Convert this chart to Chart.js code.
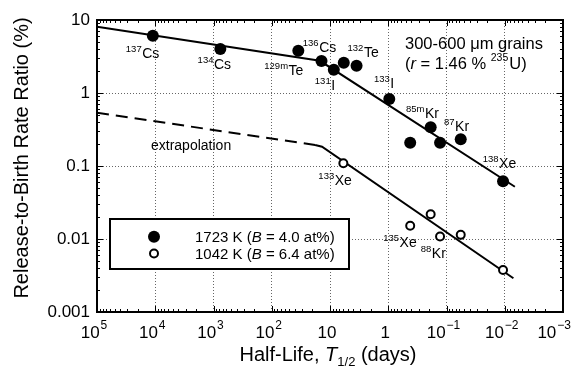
<!DOCTYPE html>
<html><head><meta charset="utf-8">
<script src="https://cdn.jsdelivr.net/npm/chart.js@4.4.0/dist/chart.umd.min.js"></script>
<style>html,body{margin:0;padding:0;background:#fff}#wrap{width:572px;height:380px;position:relative}</style>
</head><body><div id="wrap"><canvas id="c" width="572" height="380"></canvas></div>
<script>
// ---------------- data ----------------
const hotHalfLife = [11000, 764, 35, 14, 8.6, 5.8, 3.5, 0.96, 0.187, 0.42, 0.129, 0.057, 0.0107];
const hotRatio    = [6.1, 4.0, 3.8, 2.74, 2.08, 2.6, 2.37, 0.83, 0.339, 0.208, 0.208, 0.232, 0.062];
const hotMass     = ['137','134','129m','136','131','','132','133','85m','','','87','138'];
const hotElem     = ['Cs','Cs','Te','Cs','I','','Te','I','Kr','','','Kr','Xe'];
const coldHalfLife = [5.9, 0.42, 0.187, 0.129, 0.057, 0.0107];
const coldRatio    = [0.109, 0.0152, 0.0218, 0.0108, 0.0114, 0.00376];
const coldMass     = ['133','135','','88','',''];
const coldElem     = ['Xe','Xe','','Kr','',''];
const hotFitX = [1e5, 14.9, 0.0067];
const hotFitY = [8.1, 2.76, 0.052];
const extrapX = [1e5, 18];
const extrapY = [0.537, 0.194];
const coldFitX = [18, 13.7, 0.0071];
const coldFitY = [0.194, 0.184, 0.0029];
const xTicks = [1e5, 1e4, 1e3, 1e2, 10, 1, 0.1, 0.01, 0.001];
const xTickBase = ['10','10','10','10','10','1','10','10','10'];
const xTickExp  = ['5','4','3','2','','','\u22121','\u22122','\u22123'];
const yTicks = [10, 1, 0.1, 0.01, 0.001];
const yTickLabels = ['10','1','0.1','0.01','0.001'];
const legendHot  = ['1723 K (', 'B', ' = 4.0 at%)'];
const legendCold = ['1042 K (', 'B', ' = 6.4 at%)'];
const noteLine1 = '300-600 \u03bcm grains';
const noteLine2 = ['(', 'r', ' = 1.46 % ', '235', 'U)'];
const extrapText = 'extrapolation';
const xTitle = ['Half-Life, ', 'T', '1/2', ' (days)'];
const yTitle = 'Release-to-Birth Rate Ratio (%)';

// ---------------- layout / style ----------------
const FONT = "'Liberation Sans', Arial, Helvetica, sans-serif";
const hotLabelOffsets = [[-27,22.5],[-22.7,20.3],[-34,24.3],[-18.7,-9.3],[-19,20.5],null,[-9,-8.4],[-15.3,-10.7],[-24.7,-9],null,null,[-16.7,-8.3],[-20.3,-12.7]];
const coldLabelOffsets = [[-25,21.7],[-27,21],null,[-19.3,21.6],null,null];

const pts = (xs, ys) => xs.map((x, i) => ({x: x, y: ys[i]}));

const overlay = {
  id: 'overlay',
  afterDatasetsDraw(chart) {
    const ctx = chart.ctx;
    const xs = chart.scales.x, ys = chart.scales.y;
    const a = chart.chartArea;
    ctx.save();
    ctx.fillStyle = '#000';
    ctx.strokeStyle = '#000';
    // minor/major tick marks on all four sides
    ctx.lineWidth = 1;
    ctx.beginPath();
    for (let d = -3; d <= 5; d++) {
      for (let k = 1; k <= 9; k++) {
        const v = k * Math.pow(10, d);
        if (v > 1e5 * 1.0001) continue;
        const px = Math.round(xs.getPixelForValue(v)) + 0.5;
        const L = k === 1 ? 6 : 3;
        ctx.moveTo(px, a.bottom); ctx.lineTo(px, a.bottom - L);
        ctx.moveTo(px, a.top); ctx.lineTo(px, a.top + L);
      }
    }
    for (let d = -3; d <= 1; d++) {
      for (let k = 1; k <= 9; k++) {
        const v = k * Math.pow(10, d);
        if (v > 10.0001) continue;
        const py = Math.round(ys.getPixelForValue(v)) + 0.5;
        const L = k === 1 ? 6 : 3;
        ctx.moveTo(a.left, py); ctx.lineTo(a.left + L, py);
        ctx.moveTo(a.right, py); ctx.lineTo(a.right - L, py);
      }
    }
    ctx.stroke();
    // frame
    ctx.lineWidth = 2;
    ctx.strokeRect(a.left, a.top, a.right - a.left, a.bottom - a.top);

    // isotope labels
    const drawIso = (px, py, off, mass, elem) => {
      if (!off) return;
      let x = px + off[0];
      const y = py + off[1];
      ctx.textAlign = 'left';
      ctx.textBaseline = 'alphabetic';
      ctx.font = '9.5px ' + FONT;
      ctx.fillText(mass, x, y - 6);
      x += ctx.measureText(mass).width + 0.5;
      ctx.font = '14px ' + FONT;
      ctx.fillText(elem, x, y);
    };
    hotHalfLife.forEach((hx, i) => {
      drawIso(xs.getPixelForValue(hx), ys.getPixelForValue(hotRatio[i]), hotLabelOffsets[i], hotMass[i], hotElem[i]);
    });
    coldHalfLife.forEach((cx, i) => {
      drawIso(xs.getPixelForValue(cx), ys.getPixelForValue(coldRatio[i]), coldLabelOffsets[i], coldMass[i], coldElem[i]);
    });

    // extrapolation note
    ctx.font = '14px ' + FONT;
    ctx.textAlign = 'left';
    ctx.fillText(extrapText, 151, 150);

    // top-right note
    ctx.font = '16.5px ' + FONT;
    ctx.fillText(noteLine1, 405, 49);
    let nx = 405;
    const parts = [
      [noteLine2[0], '16.5px ' + FONT, 0],
      [noteLine2[1], 'italic 16.5px ' + FONT, 0],
      [noteLine2[2], '16.5px ' + FONT, 0],
      [noteLine2[3], '10.5px ' + FONT, -8],
      [noteLine2[4], '16.5px ' + FONT, 0]
    ];
    parts.forEach(p => { ctx.font = p[1]; ctx.fillText(p[0], nx, 69 + p[2]); nx += ctx.measureText(p[0]).width + (p[1].indexOf('10.5') >= 0 ? 1 : 0); });

    // legend box
    ctx.fillStyle = '#fff';
    ctx.fillRect(110, 219, 239, 50);
    ctx.lineWidth = 2;
    ctx.strokeRect(110, 219, 239, 50);
    ctx.fillStyle = '#000';
    ctx.beginPath(); ctx.arc(154, 236.7, 6, 0, Math.PI * 2); ctx.fill();
    ctx.beginPath(); ctx.arc(154, 253.5, 4, 0, Math.PI * 2);
    ctx.fillStyle = '#fff'; ctx.fill(); ctx.lineWidth = 2; ctx.stroke();
    ctx.fillStyle = '#000';
    const drawLeg = (arr, y) => {
      let lx = 195;
      arr.forEach((s, j) => {
        ctx.font = (j === 1 ? 'italic ' : '') + '15px ' + FONT;
        ctx.fillText(s, lx, y);
        lx += ctx.measureText(s).width;
      });
    };
    drawLeg(legendHot, 242);
    drawLeg(legendCold, 259);

    // x tick labels with superscripts
    xTicks.forEach((v, i) => {
      const px = xs.getPixelForValue(v);
      ctx.font = '17px ' + FONT;
      const bw = ctx.measureText(xTickBase[i]).width;
      ctx.font = '12px ' + FONT;
      const ew = xTickExp[i] ? ctx.measureText(xTickExp[i]).width + 1 : 0;
      let sx = px - 3 - (bw + ew) / 2;
      if (sx + bw + ew > 571) sx = 571 - bw - ew;
      ctx.font = '17px ' + FONT;
      ctx.fillText(xTickBase[i], sx, 337.5);
      if (xTickExp[i]) {
        ctx.font = '12px ' + FONT;
        ctx.fillText(xTickExp[i], sx + bw + 1, 329);
      }
    });

    // x title
    const tParts = [
      [xTitle[0], '20px ' + FONT, 0],
      [xTitle[1], 'italic 20px ' + FONT, 0],
      [xTitle[2], '13px ' + FONT, 5],
      [xTitle[3], '20px ' + FONT, 0]
    ];
    let tw = 0;
    tParts.forEach(p => { ctx.font = p[1]; tw += ctx.measureText(p[0]).width; });
    let tx = 328 - tw / 2;
    tParts.forEach(p => { ctx.font = p[1]; ctx.fillText(p[0], tx, 361 + p[2]); tx += ctx.measureText(p[0]).width; });

    // y title
    ctx.save();
    ctx.translate(22.5, 158);
    ctx.rotate(-Math.PI / 2);
    ctx.font = '20px ' + FONT;
    ctx.textAlign = 'center';
    ctx.textBaseline = 'middle';
    ctx.fillText(yTitle, 0, 0);
    ctx.restore();

    ctx.restore();
  }
};

new Chart(document.getElementById('c'), {
  type: 'scatter',
  data: {
    datasets: [
      { label: '1723 K', data: pts(hotHalfLife, hotRatio), backgroundColor: '#000', borderColor: '#000', pointRadius: 6, pointBorderWidth: 0, showLine: false },
      { label: '1042 K', data: pts(coldHalfLife, coldRatio), backgroundColor: '#fff', borderColor: '#000', pointRadius: 4, pointBorderWidth: 2, showLine: false },
      { label: 'fit 1723 K', data: pts(hotFitX, hotFitY), showLine: true, borderColor: '#000', borderWidth: 2, pointRadius: 0, fill: false },
      { label: 'extrapolation', data: pts(extrapX, extrapY), showLine: true, borderColor: '#000', borderWidth: 2, borderDash: [12, 7], pointRadius: 0, fill: false },
      { label: 'fit 1042 K', data: pts(coldFitX, coldFitY), showLine: true, borderColor: '#000', borderWidth: 2, pointRadius: 0, fill: false }
    ]
  },
  options: {
    responsive: false,
    animation: false,
    devicePixelRatio: 1,
    layout: { padding: { top: 20, right: 9, left: 0, bottom: 0 } },
    plugins: { legend: { display: false }, tooltip: { enabled: false } },
    scales: {
      x: {
        type: 'logarithmic', reverse: true, min: 0.001, max: 1e5,
        afterBuildTicks: s => { s.ticks = xTicks.map(v => ({ value: v })); },
        afterFit: s => { s.height = 68; },
        ticks: { display: false },
        grid: { color: '#666', lineWidth: 1, drawTicks: false },
        border: { display: false, dash: [1, 2] }
      },
      y: {
        type: 'logarithmic', min: 0.001, max: 10,
        afterBuildTicks: s => { s.ticks = yTicks.map(v => ({ value: v })); },
        afterFit: s => { s.width = 97; },
        ticks: {
          color: '#000', padding: 7,
          font: { family: FONT, size: 17 },
          callback: (v) => { const i = yTicks.findIndex(t => Math.abs(t - v) / t < 1e-6); return i >= 0 ? yTickLabels[i] : ''; }
        },
        grid: { color: '#666', lineWidth: 1, drawTicks: false },
        border: { display: false, dash: [1, 2] }
      }
    }
  },
  plugins: [overlay]
});
</script></body></html>
